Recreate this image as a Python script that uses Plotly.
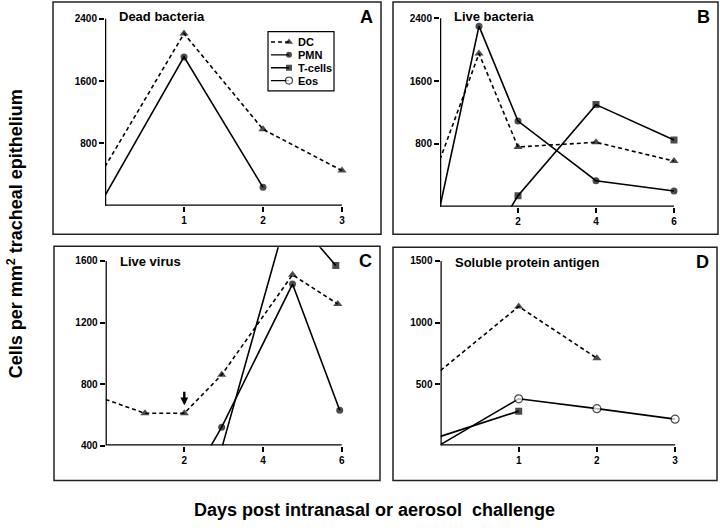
import plotly.graph_objects as go

# ---------------- data ----------------
SERIES = ["DC", "PMN", "T-cells", "Eos"]

# Panel A: Dead bacteria
A_DC_x = [0, 1, 2, 3]
A_DC_y = [500, 2210, 980, 450]
A_PMN_x = [0, 1, 2]
A_PMN_y = [130, 1910, 235]

# Panel B: Live bacteria
B_DC_x = [0, 1, 2, 4, 6]
B_DC_y = [600, 1950, 760, 820, 580]
B_PMN_x = [0, 1, 2, 4, 6]
B_PMN_y = [0, 2300, 1090, 330, 200]
B_T_x = [1.83, 2, 4, 6]
B_T_y = [0, 140, 1300, 850]

# Panel C: Live virus
C_DC_x = [0, 1, 2, 2.95, 4.75, 5.9]
C_DC_y = [700, 610, 610, 860, 1510, 1320]
C_PMN_x = [2.68, 2.95, 4.75, 5.95]
C_PMN_y = [400, 520, 1450, 630]
C_T_x = [2.97, 4.65, 5.85]
C_T_y = [400, 1930, 1570]

# Panel D: Soluble protein antigen
D_DC_x = [0, 1, 2]
D_DC_y = [610, 1130, 710]
D_T_x = [0, 1]
D_T_y = [75, 280]
D_Eos_x = [0, 1, 2, 3]
D_Eos_y = [8, 380, 300, 215]

A_XTICKS = [1, 2, 3]
A_YTICKS = [800, 1600, 2400]
B_XTICKS = [2, 4, 6]
B_YTICKS = [800, 1600, 2400]
C_XTICKS = [2, 4, 6]
C_YTICKS = [400, 800, 1200, 1600]
D_XTICKS = [1, 2, 3]
D_YTICKS = [500, 1000, 1500]

TITLES = {"A": "Dead bacteria", "B": "Live bacteria",
          "C": "Live virus", "D": "Soluble protein antigen"}
Y_TITLE = "Cells per mm<sup>2</sup> tracheal epithelium"
X_TITLE = "Days post intranasal or aerosol\u00a0\u00a0challenge"

# ---------------- styles ----------------
FONT = "Liberation Sans, Arial, Helvetica, sans-serif"
STYLE = {
    "DC": dict(dash="4px,3px", symbol="triangle-up", size=8, fill="black"),
    "PMN": dict(dash="solid", symbol="circle", size=7, fill="black"),
    "T-cells": dict(dash="solid", symbol="square", size=7, fill="black"),
    "Eos": dict(dash="solid", symbol="circle", size=8, fill="white"),
}

W, H = 720, 530
def fx(p):
    return p / W
def fy(p):
    return 1 - p / H

# pixel geometry of each panel: box, origin of axes, px per unit
PANELS = {
    "A": dict(ax="", box=(53, 2, 381, 237), origin=(105, 208), xpx=79.0, ypx=63 / 800, ymin=0,
              xt=A_XTICKS, yt=A_YTICKS,
              series={"DC": (A_DC_x, A_DC_y), "PMN": (A_PMN_x, A_PMN_y)}),
    "B": dict(ax="2", box=(393, 2, 718, 237), origin=(440, 209), xpx=39.0, ypx=63.5 / 800, ymin=0,
              xt=B_XTICKS, yt=B_YTICKS,
              series={"DC": (B_DC_x, B_DC_y), "PMN": (B_PMN_x, B_PMN_y), "T-cells": (B_T_x, B_T_y)}),
    "C": dict(ax="3", box=(54, 249, 380, 486), origin=(105.6, 450.7), xpx=39.35, ypx=62.25 / 400, ymin=400,
              xt=C_XTICKS, yt=C_YTICKS,
              series={"DC": (C_DC_x, C_DC_y), "PMN": (C_PMN_x, C_PMN_y), "T-cells": (C_T_x, C_T_y)}),
    "D": dict(ax="4", box=(393, 250, 717, 486), origin=(440.5, 450.7), xpx=78.2, ypx=62.25 / 500, ymin=0,
              xt=D_XTICKS, yt=D_YTICKS,
              series={"DC": (D_DC_x, D_DC_y), "T-cells": (D_T_x, D_T_y), "Eos": (D_Eos_x, D_Eos_y)}),
}

fig = go.Figure()
shapes = []
annotations = []
layout_axes = {}

for key, P in PANELS.items():
    bx0, by0, bx1, by1 = P["box"]
    ox, oy = P["origin"]
    xr = [0, (bx1 - 1 - ox) / P["xpx"]]
    yr = [P["ymin"], P["ymin"] + (oy - (by0 + 1)) / P["ypx"]]
    xa, ya = "x" + P["ax"], "y" + P["ax"]
    common = dict(showgrid=False, zeroline=False, showline=False, ticks="outside",
                  ticklen=5, tickwidth=1.5, tickcolor="black", fixedrange=True,
                  tickfont=dict(family=FONT, size=10, color="black", weight="bold"))
    layout_axes["xaxis" + P["ax"]] = dict(common, domain=[fx(ox), fx(bx1 - 1)], range=xr,
                                          anchor=ya, tickvals=P["xt"],
                                          ticktext=[str(v) for v in P["xt"]])
    layout_axes["yaxis" + P["ax"]] = dict(common, domain=[fy(oy), fy(by0 + 1)], range=yr,
                                          anchor=xa, tickvals=P["yt"],
                                          ticktext=[str(v) for v in P["yt"]])
    # series
    for name, (xs, ys) in P["series"].items():
        st = STYLE[name]
        sizes = [0 if (x == 0 or y == P["ymin"]) else st["size"] for x, y in zip(xs, ys)]
        fig.add_trace(go.Scatter(
            x=xs, y=ys, xaxis=xa, yaxis=ya, mode="lines+markers", name=name,
            showlegend=False, cliponaxis=True,
            line=dict(color="black", width=1.6, dash=st["dash"]),
            marker=dict(symbol=st["symbol"], size=sizes, color=st["fill"],
                        line=dict(color="black", width=1.2 if st["fill"] == "white" else 0)),
        ))
    # axis lines
    shapes.append(dict(type="line", xref=xa, yref=ya, x0=0, x1=0, y0=P["ymin"], y1=max(P["yt"]),
                       line=dict(color="black", width=2.5)))
    shapes.append(dict(type="line", xref=xa, yref=ya, x0=0, x1=max(P["xt"]), y0=P["ymin"], y1=P["ymin"],
                       line=dict(color="black", width=2.5)))
    # panel box
    shapes.append(dict(type="rect", xref="paper", yref="paper", x0=fx(bx0), x1=fx(bx1),
                       y0=fy(by1), y1=fy(by0), line=dict(color="#222", width=1.5)))
    # titles and letters
    annotations.append(dict(text="<b>" + TITLES[key] + "</b>", xref="paper", yref="paper",
                            x=fx(ox + 12), y=fy(by0 + 15), xanchor="left", yanchor="middle",
                            showarrow=False, font=dict(family=FONT, size=13, color="black")))
    annotations.append(dict(text="<b>" + key + "</b>", xref="paper", yref="paper",
                            x=fx(bx1 - 15), y=fy(by0 + 15), xanchor="center", yanchor="middle",
                            showarrow=False, font=dict(family=FONT, size=18, color="black")))

# arrow marking day 2 in panel C
annotations.append(dict(x=2, y=662, ax=2, ay=760, xref="x3", yref="y3", axref="x3", ayref="y3",
                        showarrow=True, arrowhead=2, arrowsize=0.65, arrowwidth=2.4,
                        arrowcolor="black", text=""))

# ---- legend (panel A) ----
LEG_BOX = (268, 32, 334, 92)
lx0, ly0, lx1, ly1 = LEG_BOX
layout_axes["xaxis5"] = dict(domain=[fx(lx0), fx(lx1)], range=[lx0, lx1], visible=False,
                             anchor="y5", fixedrange=True)
layout_axes["yaxis5"] = dict(domain=[fy(ly1), fy(ly0)], range=[ly1, ly0], visible=False,
                             anchor="x5", fixedrange=True)
shapes.append(dict(type="rect", xref="paper", yref="paper", x0=fx(lx0), x1=fx(lx1),
                   y0=fy(ly1), y1=fy(ly0), line=dict(color="black", width=1.2),
                   fillcolor="white", layer="below"))
for i, name in enumerate(SERIES):
    st = STYLE[name]
    ry = ly0 + 10.5 + i * 13
    fig.add_trace(go.Scatter(
        x=[lx0 + 3, lx0 + 21], y=[ry, ry], xaxis="x5", yaxis="y5", mode="lines+markers",
        showlegend=False, cliponaxis=False, hoverinfo="skip",
        line=dict(color="black", width=1.4, dash=st["dash"]),
        marker=dict(symbol=st["symbol"], size=[0, st["size"] - 1], color=st["fill"],
                    line=dict(color="black", width=1.2 if st["fill"] == "white" else 0)),
    ))
    annotations.append(dict(text="<b>" + name + "</b>", xref="x5", yref="y5", x=lx0 + 28, y=ry,
                            xanchor="left", yanchor="middle", showarrow=False,
                            font=dict(family=FONT, size=11, color="black")))

# axis titles
annotations.append(dict(text="<b>" + Y_TITLE + "</b>", xref="paper", yref="paper",
                        x=fx(15), y=fy(237), textangle=-90, showarrow=False,
                        xanchor="center", yanchor="middle",
                        font=dict(family=FONT, size=18, color="black")))
annotations.append(dict(text="<b>" + X_TITLE + "</b>", xref="paper", yref="paper",
                        x=fx(374), y=fy(516), showarrow=False, xanchor="center", yanchor="middle",
                        font=dict(family=FONT, size=18, color="black")))

fig.update_layout(
    width=W, height=H, margin=dict(l=0, r=0, t=0, b=0),
    paper_bgcolor="white", plot_bgcolor="rgba(0,0,0,0)",
    showlegend=False, shapes=shapes, annotations=annotations,
    font=dict(family=FONT, color="black"),
    **layout_axes,
)

fig.write_html("out.html", config={"displayModeBar": False},
               post_script="document.body.style.margin='0px';document.body.style.overflow='hidden';")
